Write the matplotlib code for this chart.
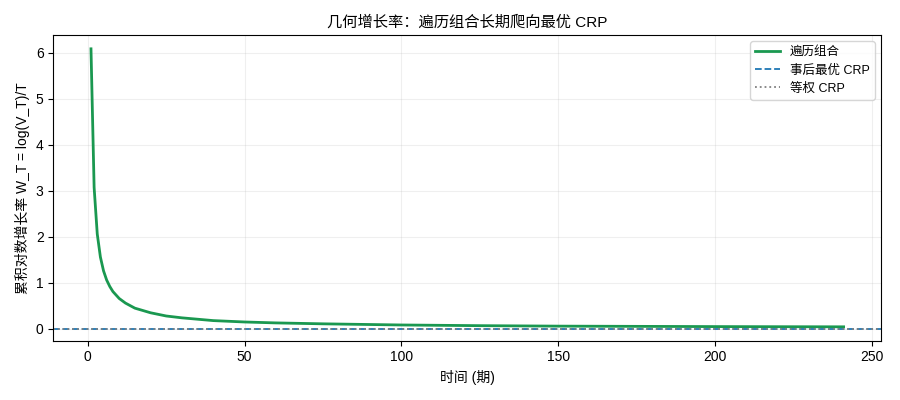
import matplotlib.pyplot as plt

plt.rcParams['font.family'] = ['Liberation Sans', 'Noto Sans CJK SC', 'DejaVu Sans']
plt.rcParams['axes.unicode_minus'] = False

# 遍历组合的累积对数增长率
periods = [1, 2, 3, 4, 5, 6, 7, 8, 10, 12, 15, 20, 25, 30, 40, 50, 60, 75,
           100, 125, 150, 175, 200, 241]
universal_w = [6.08, 3.07, 2.06, 1.56, 1.26, 1.06, 0.92, 0.81, 0.66, 0.56,
               0.45, 0.35, 0.28, 0.24, 0.18, 0.15, 0.13, 0.11, 0.085, 0.07,
               0.06, 0.055, 0.05, 0.045]
best_crp_w = 0.002
equal_crp_w = 0.001

fig, ax = plt.subplots(figsize=(9, 4), dpi=100)
ax.plot(periods, universal_w, color='#1a9850', lw=2, label='遍历组合')
ax.axhline(best_crp_w, color='#1f77b4', ls='--', lw=1.3, label='事后最优 CRP')
ax.axhline(equal_crp_w, color='gray', ls=':', lw=1.3, label='等权 CRP')

ax.set_title('几何增长率：遍历组合长期爬向最优 CRP', fontsize=11)
ax.set_xlabel('时间 (期)')
ax.set_ylabel('累积对数增长率 W_T = log(V_T)/T')
ax.grid(alpha=0.2)
ax.legend(loc='upper right', fontsize=9)

fig.tight_layout()
fig.savefig('out.png')
